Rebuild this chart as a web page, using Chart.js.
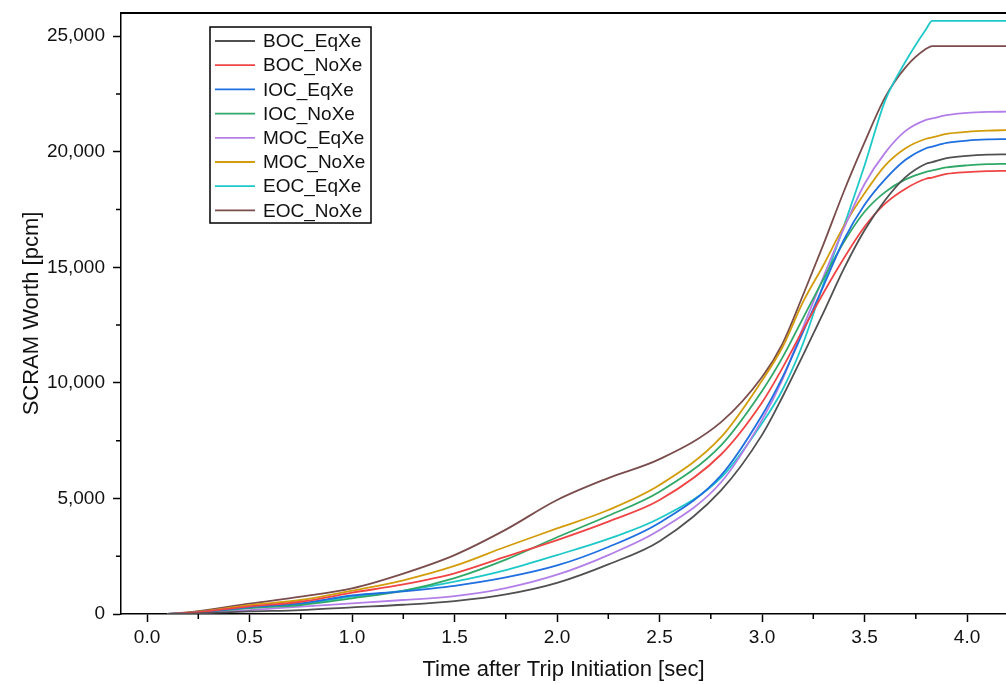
<!DOCTYPE html>
<html>
<head>
<meta charset="utf-8">
<script src="https://cdn.jsdelivr.net/npm/chart.js@4.4.0/dist/chart.umd.min.js"></script>
<style>
  body { margin: 0; background: #fff; }
  #wrap { width: 1006px; height: 684px; }
</style>
</head>
<body>
<div id="wrap"><canvas id="chart" width="1006" height="684"></canvas></div>
<script>
// time after trip initiation [sec]
const times = [0.1, 0.25, 0.5, 0.75, 1.0, 1.25, 1.5, 1.75, 2.0, 2.25, 2.5, 2.8, 3.0, 3.1, 3.2, 3.3, 3.4, 3.5, 3.6, 3.7, 3.8, 3.83, 3.9, 4.0, 4.1, 4.2];

// scram worth [pcm]
const bocEqXe = [0, 30, 110, 170, 290, 400, 560, 850, 1350, 2150, 3150, 5350, 7750, 9400, 11200, 13050, 14950, 16600, 17900, 18900, 19480, 19550, 19720, 19820, 19870, 19883];
const bocNoXe = [0, 80, 330, 530, 920, 1280, 1760, 2480, 3200, 4000, 4930, 6900, 9150, 10650, 12300, 13900, 15400, 16750, 17750, 18400, 18830, 18880, 19040, 19120, 19160, 19175];
const iocEqXe = [0, 75, 300, 460, 800, 980, 1220, 1580, 2100, 2900, 3950, 6000, 8600, 10250, 12200, 14200, 16200, 17700, 18800, 19650, 20150, 20220, 20380, 20480, 20530, 20545];
const iocNoXe = [0, 60, 260, 390, 680, 1000, 1550, 2350, 3320, 4250, 5290, 7300, 9650, 11100, 12800, 14500, 16100, 17400, 18250, 18800, 19130, 19190, 19320, 19410, 19460, 19477];
const mocEqXe = [0, 40, 170, 320, 460, 605, 770, 1120, 1700, 2550, 3630, 5700, 8400, 10150, 12400, 14600, 16700, 18600, 19950, 20900, 21380, 21440, 21580, 21680, 21720, 21730];
const mocNoXe = [0, 100, 380, 605, 1010, 1460, 2080, 2910, 3700, 4500, 5580, 7650, 10100, 11550, 13500, 15100, 16800, 18200, 19400, 20150, 20560, 20620, 20770, 20860, 20910, 20935];
const eocEqXe = [0, 70, 280, 430, 750, 1010, 1400, 1900, 2550, 3250, 4140, 5900, 8250, 9700, 11700, 14300, 16800, 19400, 22200, 23900, 25300, 25660, 25660, 25660, 25660, 25660];
const eocNoXe = [0, 120, 450, 750, 1110, 1750, 2550, 3650, 4930, 5880, 6700, 8300, 10250, 11700, 13800, 16000, 18300, 20400, 22350, 23650, 24450, 24570, 24570, 24570, 24570, 24570];

const seriesNames = ['BOC_EqXe', 'BOC_NoXe', 'IOC_EqXe', 'IOC_NoXe', 'MOC_EqXe', 'MOC_NoXe', 'EOC_EqXe', 'EOC_NoXe'];
const seriesValues = [bocEqXe, bocNoXe, iocEqXe, iocNoXe, mocEqXe, mocNoXe, eocEqXe, eocNoXe];
const seriesColors = ['#505050', '#f04444', '#1f6fe0', '#30a868', '#b47ee8', '#d29c0a', '#1ec8c8', '#7a4c4c'];

const xTicks = [0, 0.5, 1.0, 1.5, 2.0, 2.5, 3.0, 3.5, 4.0];
const yTicks = [0, 5000, 10000, 15000, 20000, 25000];

const FONT = '"Liberation Sans", Arial, sans-serif';

// minor ticks, top frame and the boxed legend
const extras = {
  id: 'extras',
  afterDraw(chart) {
    const ctx = chart.ctx;
    const xs = chart.scales.x, ys = chart.scales.y;
    const area = chart.chartArea;
    ctx.save();
    ctx.strokeStyle = '#000';
    ctx.lineWidth = 1.5;
    ctx.beginPath();
    for (let v = 0.25; v < xs.max; v += 0.5) {
      const px = xs.getPixelForValue(v);
      ctx.moveTo(px, area.bottom);
      ctx.lineTo(px, area.bottom + 5);
    }
    for (let v = 2500; v < ys.max; v += 5000) {
      const py = ys.getPixelForValue(v);
      ctx.moveTo(area.left, py);
      ctx.lineTo(area.left - 5, py);
    }
    ctx.stroke();

    ctx.lineWidth = 2;
    ctx.beginPath();
    ctx.moveTo(area.left - 1, area.top);
    ctx.lineTo(area.right, area.top);
    ctx.stroke();

    // legend
    const lx = 210, ly = 27, lw = 161, lh = 196, rowH = 24.2;
    ctx.fillStyle = '#fff';
    ctx.fillRect(lx, ly, lw, lh);
    ctx.lineWidth = 1.5;
    ctx.strokeStyle = '#000';
    ctx.strokeRect(lx, ly, lw, lh);
    ctx.font = '19px ' + FONT;
    ctx.textBaseline = 'middle';
    chart.data.datasets.forEach((ds, i) => {
      const cy = ly + 14 + i * rowH;
      ctx.strokeStyle = ds.borderColor;
      ctx.lineWidth = 1.8;
      ctx.beginPath();
      ctx.moveTo(lx + 5, cy);
      ctx.lineTo(lx + 45, cy);
      ctx.stroke();
      ctx.fillStyle = '#111';
      ctx.fillText(ds.label, lx + 53, cy + 1);
    });
    ctx.restore();
  }
};

new Chart(document.getElementById('chart'), {
  type: 'line',
  data: {
    datasets: seriesNames.map((name, i) => ({
      label: name,
      data: times.map((t, j) => ({ x: t, y: seriesValues[i][j] })),
      borderColor: seriesColors[i],
      backgroundColor: seriesColors[i],
      borderWidth: 1.8,
      pointRadius: 0,
      fill: false,
      cubicInterpolationMode: 'monotone'
    }))
  },
  options: {
    responsive: false,
    animation: false,
    layout: { padding: { top: 13, right: 0, left: 0, bottom: 0 } },
    plugins: {
      legend: { display: false },
      tooltip: { enabled: false }
    },
    scales: {
      x: {
        type: 'linear',
        min: -0.127,
        max: 4.19,
        afterBuildTicks: s => { s.ticks = xTicks.map(v => ({ value: v })); },
        afterFit: s => { s.height = 70; s.paddingLeft = 0; s.paddingRight = 0; },
        ticks: {
          callback: v => v.toFixed(1),
          font: { family: FONT, size: 19 },
          color: '#111',
          padding: 4,
          maxRotation: 0
        },
        grid: { drawOnChartArea: false, tickLength: 8, tickColor: '#000', tickWidth: 1.5 },
        border: { display: true, color: '#000', width: 1.5 },
        title: {
          display: true,
          text: 'Time after Trip Initiation [sec]',
          font: { family: FONT, size: 22 },
          color: '#111',
          padding: { top: 0, bottom: 1 }
        }
      },
      y: {
        type: 'linear',
        min: 0,
        max: 26000,
        afterBuildTicks: s => { s.ticks = yTicks.map(v => ({ value: v })); },
        afterFit: s => { s.width = 121; s.paddingTop = 0; s.paddingBottom = 0; },
        ticks: {
          callback: v => v.toLocaleString('en-US'),
          font: { family: FONT, size: 19 },
          color: '#111',
          padding: 8
        },
        grid: { drawOnChartArea: false, tickLength: 8, tickColor: '#000', tickWidth: 1.5 },
        border: { display: true, color: '#000', width: 1.5 },
        title: {
          display: true,
          text: 'SCRAM Worth [pcm]',
          font: { family: FONT, size: 22 },
          color: '#111',
          padding: { top: 19, bottom: 0 }
        }
      }
    }
  },
  plugins: [extras]
});
</script>
</body>
</html>
